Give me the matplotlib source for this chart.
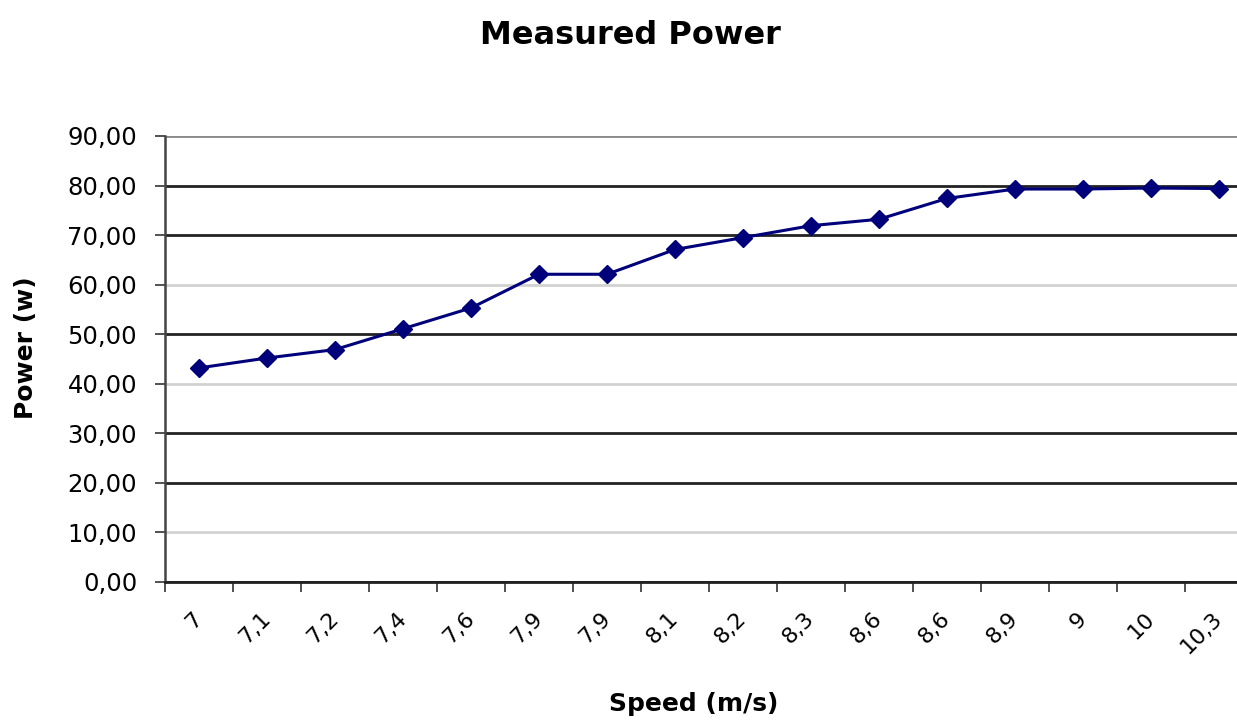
import numpy as np
import matplotlib.pyplot as plt
from matplotlib.ticker import FixedLocator, FuncFormatter

plt.rcParams['font.family'] = ['DejaVu Sans']

# Datos
speed_labels = ['7', '7,1', '7,2', '7,4', '7,6', '7,9', '7,9', '8,1',
                '8,2', '8,3', '8,6', '8,6', '8,9', '9', '10', '10,3']
power = [43.2, 45.2, 46.9, 51.1, 55.3, 62.1, 62.1, 67.1,
         69.5, 71.9, 73.2, 77.4, 79.3, 79.3, 79.5, 79.4]
y_ticks = [0, 10, 20, 30, 40, 50, 60, 70, 80, 90]
grid_colors = ['#000000', '#d2d2d2', '#222222', '#222222', '#d2d2d2',
               '#222222', '#d2d2d2', '#222222', '#222222', '#8a8a8a']

W, H = 1237, 726
fig = plt.figure(figsize=(W / 100, H / 100), dpi=100)
ax = fig.add_axes([165 / W, 1 - 582 / H, (1253 - 165) / W, (582 - 136) / H])

x = np.arange(len(power))
ax.plot(x, power, color='#00007a', lw=2.2, marker='D', markersize=9, zorder=3)

ax.set_xlim(-0.5, len(power) - 0.5)
ax.set_ylim(0, 90)

# eje y
ax.set_yticks(y_ticks)
ax.yaxis.set_major_formatter(FuncFormatter(lambda v, p: f'{v:.2f}'.replace('.', ',')))
ax.tick_params(axis='y', labelsize=17.5, length=7, width=1.2, color='#333333', pad=13)
ax.grid(axis='y', lw=2, zorder=1)
for gl, c in zip(ax.yaxis.get_gridlines(), grid_colors):
    gl.set_color(c)

# eje x: marcas entre categorías, etiquetas en el centro
ax.set_xticks(x)
ax.set_xticklabels(speed_labels, rotation=45, ha='right', va='center',
                   rotation_mode='anchor', fontsize=16)
ax.tick_params(axis='x', which='major', length=0, pad=24)
ax.xaxis.set_minor_locator(FixedLocator(np.arange(-0.5, len(power), 1)))
ax.tick_params(axis='x', which='minor', length=7, width=1.2, color='#333333')

ax.spines['top'].set_visible(False)
ax.spines['right'].set_visible(False)
ax.spines['left'].set_color('#444444')
ax.spines['left'].set_linewidth(1.8)
ax.spines['bottom'].set_color('#222222')
ax.spines['bottom'].set_linewidth(2)

fig.text(630 / W, 1 - 36 / H, 'Measured Power', ha='center', va='center',
         fontsize=23, fontweight='bold')
fig.text(26 / W, 1 - 348 / H, 'Power (w)', ha='center', va='center',
         rotation=90, fontsize=18, fontweight='bold')
fig.text(694 / W, 1 - 704 / H, 'Speed (m/s)', ha='center', va='center',
         fontsize=18, fontweight='bold')

fig.savefig('out.png', dpi=100)
